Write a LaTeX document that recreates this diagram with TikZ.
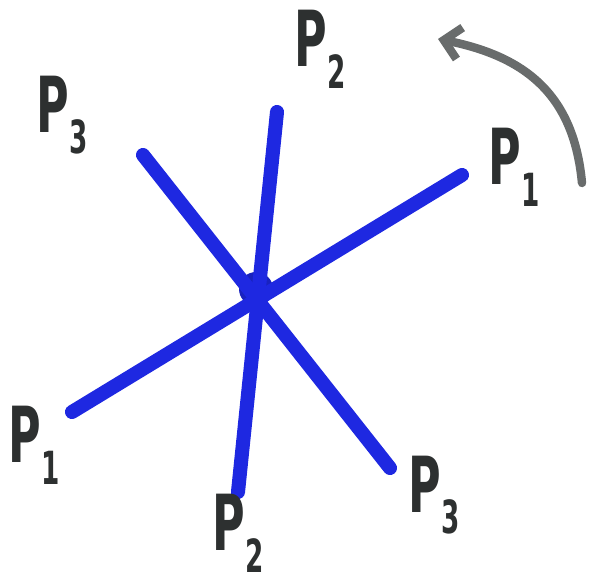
\documentclass[tikz,border=0pt]{standalone}
\usepackage{fontspec}
\setsansfont{DejaVu Sans}
\usetikzlibrary{arrows.meta}
\definecolor{penblue}{RGB}{30,40,225}
\definecolor{pengrey}{RGB}{105,108,108}
\definecolor{peninkdark}{RGB}{45,48,48}
\newcommand{\plab}[1]{\scalebox{0.72}[1.25]{P\raisebox{-0.28em}{\fontsize{26}{26}\selectfont #1}}}
\tikzset{
  bline/.style ={line width=10pt, penblue, line cap=round},
  bhub/.style  ={circle, fill=penblue!85!black, minimum size=8.5mm, inner sep=0pt},
  plabel/.style={font=\sffamily\bfseries\fontsize{44}{44}\selectfont, text=peninkdark, inner sep=0pt},
  rotarrow/.style={-{Straight Barb[length=4mm, width=8mm]}, line width=6pt, pengrey, line cap=round},
}
\begin{document}
\begin{tikzpicture}
  \useasboundingbox (0,0) rectangle (14.825,14.625);
  % centre of the three lines
  \node[bhub] (hub) at (6.40,7.40) {};
  \foreach \n/\x/\y in {a1/1.80/4.325, a2/11.55/10.25,
                        b1/6.925/11.825, b2/5.95/2.325,
                        c1/3.575/10.75, c2/9.75/2.925} {
    \coordinate (\n) at (\x,\y);
  }
  \foreach \l in {a,b,c} {
    \draw[bline] (\l1) -- (\l2);
  }
  % labels
  \node[plabel] (p3a) at (1.55,11.75) {\plab{3}};
  \node[plabel] (p2a) at (8.00,13.40) {\plab{2}};
  \node[plabel] (p1a) at (12.85,10.45) {\plab{1}};
  \node[plabel] (p1b) at (0.85,3.50) {\plab{1}};
  \node[plabel] (p2b) at (5.95,1.30) {\plab{2}};
  \node[plabel] (p3b) at (10.85,2.25) {\plab{3}};
  % rotation arrow
  \coordinate (r0) at (14.55,10.05);
  \coordinate (r1) at (10.95,13.65);
  \draw[rotarrow] (r0) .. controls (14.35,12.2) and (13.2,13.2) .. (r1);
\end{tikzpicture}
\end{document}
